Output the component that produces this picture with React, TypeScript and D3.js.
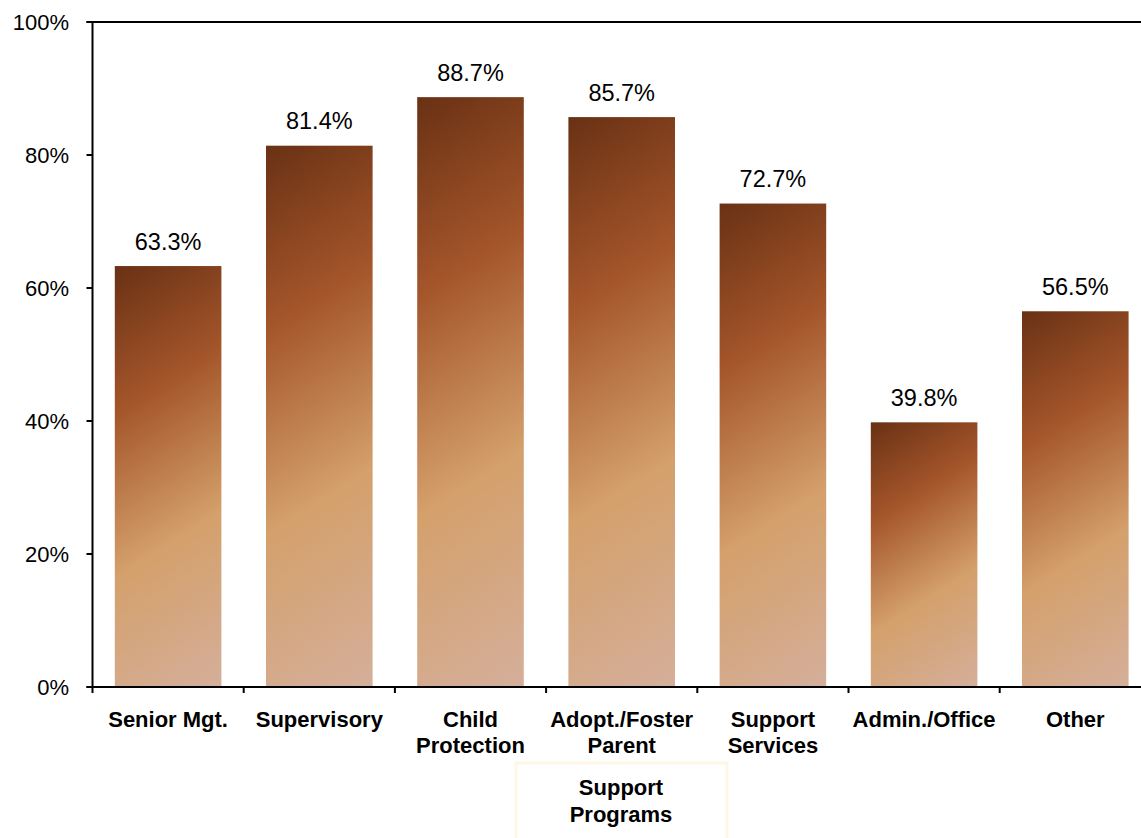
import React from "react";
import * as d3 from "d3";

const categories: string[][] = [
  ["Senior Mgt."],
  ["Supervisory"],
  ["Child", "Protection"],
  ["Adopt./Foster", "Parent"],
  ["Support", "Services"],
  ["Admin./Office"],
  ["Other"],
];
const values: number[] = [63.3, 81.4, 88.7, 85.7, 72.7, 39.8, 56.5];
const yTicks: number[] = [0, 20, 40, 60, 80, 100];
const boxLabel: string[] = ["Support", "Programs"];

const W = 1141;
const H = 838;
const left = 92.5;
const top = 22;
const bottom = 687;
const bandW = 151.2;

export default function App() {
  const x = d3
    .scaleBand<number>()
    .domain(d3.range(categories.length))
    .range([left, left + bandW * categories.length])
    .paddingInner(0.295)
    .paddingOuter(0.1475);
  const y = d3.scaleLinear().domain([0, 100]).range([bottom, top]);
  const font = "'Liberation Sans', Arial, sans-serif";
  const ang = (32 * Math.PI) / 180;
  const dx = Math.sin(ang);
  const dy = Math.cos(ang);
  const bounds = d3.range(categories.length + 1).map((i) => left + bandW * i);

  return (
    <svg
      width={W}
      height={H}
      style={{ position: "absolute", left: 0, top: 0, overflow: "hidden" }}
    >
      <rect width={W} height={H} fill="#fff" />
      <defs>
        {values.map((v, i) => {
          const x0 = x(i)!;
          const y0 = y(v);
          const w = x.bandwidth();
          const h = bottom - y0;
          const t = w * dx + h * dy;
          return (
            <linearGradient
              key={i}
              id={`g${i}`}
              gradientUnits="userSpaceOnUse"
              x1={x0}
              y1={y0}
              x2={x0 + t * dx}
              y2={y0 + t * dy}
            >
              <stop offset="0" stopColor="#693114" />
              <stop offset="0.3" stopColor="#A4552A" />
              <stop offset="0.64" stopColor="#D4A06B" />
              <stop offset="1" stopColor="#D5AF9B" />
            </linearGradient>
          );
        })}
      </defs>
      {values.map((v, i) => (
        <rect
          key={i}
          x={x(i)}
          y={y(v)}
          width={x.bandwidth()}
          height={bottom - y(v)}
          fill={`url(#g${i})`}
        />
      ))}
      {values.map((v, i) => (
        <text
          key={i}
          x={x(i)! + x.bandwidth() / 2}
          y={y(v) - 16.5}
          textAnchor="middle"
          fontFamily={font}
          fontSize={23.5}
          fill="#000"
        >
          {v.toFixed(1) + "%"}
        </text>
      ))}
      {/* frame */}
      <line x1={left - 6} x2={W} y1={top} y2={top} stroke="#000" strokeWidth={2} />
      <line x1={left} x2={left} y1={top} y2={bottom} stroke="#000" strokeWidth={2} />
      <line x1={left - 6} x2={W} y1={bottom} y2={bottom} stroke="#000" strokeWidth={2} />
      {yTicks.map((t) => (
        <g key={t}>
          <line x1={left - 6} x2={left} y1={y(t)} y2={y(t)} stroke="#000" strokeWidth={2} />
          <text
            x={69}
            y={y(t)}
            dy="0.36em"
            textAnchor="end"
            fontFamily={font}
            fontSize={22}
            fill="#000"
          >
            {t + "%"}
          </text>
        </g>
      ))}
      {bounds.map((b, i) => (
        <line key={i} x1={b} x2={b} y1={bottom} y2={bottom + 6} stroke="#000" strokeWidth={2} />
      ))}
      {categories.map((lines, i) => (
        <text
          key={i}
          x={x(i)! + x.bandwidth() / 2}
          y={727}
          textAnchor="middle"
          fontFamily={font}
          fontSize={22}
          fontWeight="bold"
          fill="#000"
        >
          {lines.map((l, j) => (
            <tspan key={j} x={x(i)! + x.bandwidth() / 2} dy={j === 0 ? 0 : 26}>
              {l}
            </tspan>
          ))}
        </text>
      ))}
      <rect x={516} y={763} width={211} height={80} fill="#fff" stroke="#FFF6E6" strokeWidth={3} />
      <text
        x={621}
        y={795}
        textAnchor="middle"
        fontFamily={font}
        fontSize={22}
        fontWeight="bold"
        fill="#000"
      >
        {boxLabel.map((l, j) => (
          <tspan key={j} x={621} dy={j === 0 ? 0 : 27}>
            {l}
          </tspan>
        ))}
      </text>
    </svg>
  );
}
